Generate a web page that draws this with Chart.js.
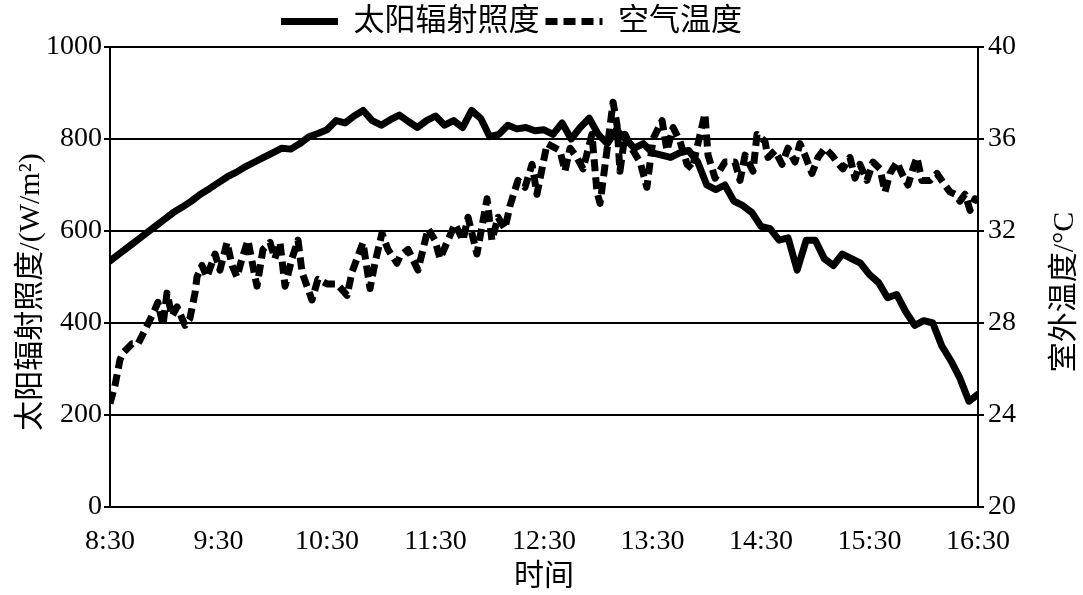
<!DOCTYPE html>
<html>
<head>
<meta charset="utf-8">
<script src="https://cdn.jsdelivr.net/npm/chart.js@4.4.1/dist/chart.umd.min.js"></script>
<style>
  html, body { margin: 0; padding: 0; background: #fff; }
  #wrap { width: 1083px; height: 595px; }
</style>
</head>
<body>
<div id="wrap"><canvas id="chart" width="1083" height="595"></canvas></div>
<script>
// time axis labels, one per hour from 8:30
const timeLabels = ['8:30', '9:30', '10:30', '11:30', '12:30', '13:30', '14:30', '15:30', '16:30']

// solar irradiance W/m2, one reading every 5 minutes from 8:30
const solarStep = 5
const solarValues = [
  535, 550, 565, 580, 595, 610, 625, 640, 652, 665, 680, 692,
  705, 718, 728, 740, 750, 760, 770, 780, 778, 790, 805, 812,
  820, 840, 835, 850, 862, 840, 830, 842, 852, 838, 825, 840,
  850, 830, 840, 825, 862, 845, 805, 810, 830, 822, 825, 818,
  820, 810, 835, 800, 825, 845, 810, 790, 820, 800, 780, 790,
  770, 765, 760, 770, 775, 750, 700, 690, 700, 665, 655, 640,
  610, 605, 580, 585, 515, 580, 580, 540, 525, 550, 540, 530,
  505, 488, 455, 462, 425, 395, 405, 400, 350, 318, 280, 230,
  245,
]

// air temperature, minutes after 8:30 and degrees C
const tempMinutes = [
  0, 2.8, 5.5, 7.2, 12.2, 15.5, 19.4, 24.9, 26.5, 29.3, 31.5, 34.3, 37.1, 41.5, 44.2, 47.0,
  48.1, 50.9, 53.6, 58.1, 60.8, 64.7, 67.5, 70.2, 73.0, 76.3, 80.2, 81.3, 84.6, 88.5, 91.2,
  94.0, 96.8, 100.6, 104.0, 106.2, 111.7, 115.0, 120.0, 125.5, 131.1, 133.8, 136.6, 139.9,
  143.8, 146.5, 150.4, 153.7, 158.7, 160.4, 164.8, 170.3, 175.9, 179.7, 182.5, 188.0, 190.8,
  195.2, 198.0, 202.9, 208.5, 211.2, 214.6, 218.4, 221.2, 225.6, 229.5, 233.4, 236.1, 239.4,
  241.7, 248.8, 251.6, 254.4, 258.2, 261.6, 266.5, 269.3, 271.0, 274.8, 278.2, 280.4, 282.0,
  284.8, 289.2, 293.1, 296.9, 300.3, 305.3, 308.0, 311.4, 315.2, 319.1, 321.9, 329.0, 330.7,
  334.6, 340.1, 345.6, 348.4, 351.2, 355.6, 357.8, 362.2, 363.9, 367.8, 371.6, 374.9, 378.8,
  381.5, 384.3, 388.2, 391.5, 395.4, 399.2, 402.0, 405.3, 409.2, 412.0, 414.7, 418.6, 421.9,
  425.8, 428.6, 431.3, 435.2, 437.9, 441.3, 444.0, 446.2, 449.0, 453.4, 457.3, 461.7, 464.5,
  467.2, 470.0, 472.8, 475.6, 478.3, 480,
]
const tempValues = [
  24.5, 25.3, 26.4, 26.7, 27.1, 27.1, 27.7, 28.6, 28.9, 27.9, 29.3, 28.3, 28.7, 27.9, 28.2, 29.3,
  30.0, 30.5, 30.0, 31.0, 30.3, 31.5, 30.5, 30.0, 30.8, 31.6, 30.0, 29.6, 31.2, 31.5, 30.8,
  31.5, 29.6, 30.8, 31.6, 30.2, 29.0, 29.9, 29.7, 29.7, 29.2, 30.2, 30.8, 31.5,
  29.5, 30.6, 31.9, 31.2, 30.6, 30.9, 31.2, 30.3, 32.1, 31.6, 30.8, 31.8, 32.3,
  31.6, 32.6, 31.0, 33.4, 31.6, 32.6, 32.1, 33.1, 34.2, 33.9, 34.9, 33.6, 34.9,
  35.8, 35.5, 34.6, 35.6, 35.2, 34.7, 36.2, 33.7, 33.2, 35.5, 37.6, 36.6, 34.6,
  36.2, 35.5, 35.0, 33.9, 36.0, 36.8, 35.5, 36.5, 35.9, 34.9, 34.7, 37.1, 35.3,
  34.3, 35.0, 35.0, 34.2, 35.3, 34.6, 36.2, 35.9, 35.2, 35.5, 34.9, 35.6, 35.0,
  35.8, 35.3, 34.5, 35.2, 35.6, 35.3, 35.0, 34.7, 35.2, 34.3, 34.9, 34.2, 35.0,
  34.7, 33.7, 34.5, 35.0, 34.5, 34.0, 34.7, 35.2, 34.2, 34.2, 34.5, 34.0, 33.7,
  33.6, 33.3, 33.6, 32.9, 33.4, 33.3,
]

const fontFamily = "'Liberation Serif', 'Noto Sans CJK SC', serif"
const tickFont = { family: fontFamily, size: 28 }
const titleFont = { family: fontFamily, size: 30 }

// both axis titles read bottom to top, a bit below the middle of the plot
const axisTitles = {
  id: 'axisTitles',
  afterLayout(chart) {
    // move the legend a little to the left of the canvas centre
    chart.legend.right -= 60
  },
  afterDraw(chart) {
    const { ctx, chartArea } = chart
    const midY = chartArea.top + 245
    const draw = (text, x) => {
      ctx.save()
      ctx.translate(x, midY)
      ctx.rotate(-Math.PI / 2)
      ctx.font = titleFont.size + 'px ' + fontFamily
      ctx.fillStyle = '#000'
      ctx.textAlign = 'center'
      ctx.textBaseline = 'middle'
      ctx.fillText(text, 0, 0)
      ctx.restore()
    }
    draw('太阳辐射照度/(W/m²)', chart.scales.y.left + 31)
    draw('室外温度/°C', chart.scales.y1.right - 18)
  },
}

const solarData = solarValues.map((v, i) => ({ x: i * solarStep, y: v }))
const tempData = tempMinutes.map((m, i) => ({ x: m, y: tempValues[i] }))

new Chart(document.getElementById('chart'), {
  type: 'line',
  data: {
    datasets: [
      {
        label: '太阳辐射照度',
        data: solarData,
        yAxisID: 'y',
        borderColor: '#000',
        backgroundColor: '#000',
        borderWidth: 7,
        borderJoinStyle: 'round',
        borderCapStyle: 'round',
        pointRadius: 0,
        pointStyle: 'line',
        tension: 0,
      },
      {
        label: '空气温度',
        data: tempData,
        yAxisID: 'y1',
        borderColor: '#000',
        backgroundColor: '#000',
        borderWidth: 7,
        borderDash: [12, 6],
        borderJoinStyle: 'round',
        pointRadius: 0,
        pointStyle: 'line',
        tension: 0,
      },
    ],
  },
  options: {
    responsive: false,
    animation: false,
    layout: { padding: { top: 0, right: 0, bottom: 0, left: 0 } },
    plugins: {
      legend: {
        display: true,
        position: 'top',
        labels: {
          usePointStyle: true,
          pointStyleWidth: 57,
          color: '#000',
          font: { family: fontFamily, size: 31 },
          padding: 6,
          generateLabels: (chart) =>
            Chart.defaults.plugins.legend.labels.generateLabels(chart).map((item, i) => ({
              ...item,
              lineDash: chart.data.datasets[i].borderDash || [],
              lineWidth: 7,
              strokeStyle: '#000',
              lineCap: 'butt',
            })),
        },
      },
      tooltip: { enabled: false },
    },
    scales: {
      x: {
        type: 'linear',
        min: 0,
        max: 480,
        ticks: {
          stepSize: 60,
          color: '#000',
          font: tickFont,
          padding: 10,
          maxRotation: 0,
          callback: (v) => timeLabels[v / 60],
        },
        grid: { display: false },
        border: { display: true, color: '#000', width: 2 },
        title: {
          display: true,
          text: '时间',
          color: '#000',
          font: titleFont,
          padding: { top: 0, bottom: 0 },
        },
        afterFit: (s) => { s.height = 88 },
      },
      y: {
        position: 'left',
        min: 0,
        max: 1000,
        ticks: { stepSize: 200, color: '#000', font: tickFont, padding: 2, callback: (v) => String(v) },
        grid: { color: '#000', lineWidth: 2, tickLength: 6 },
        border: { display: true, color: '#000', width: 2 },
        afterFit: (s) => { s.width = 110 },
      },
      y1: {
        position: 'right',
        min: 20,
        max: 40,
        ticks: { stepSize: 4, color: '#000', font: tickFont, padding: 4, callback: (v) => String(v) },
        grid: { drawOnChartArea: false, color: '#000', lineWidth: 2, tickLength: 6 },
        border: { display: true, color: '#000', width: 2 },
        afterFit: (s) => { s.width = 105 },
      },
    },
  },
  plugins: [axisTitles],
})
</script>
</body>
</html>
